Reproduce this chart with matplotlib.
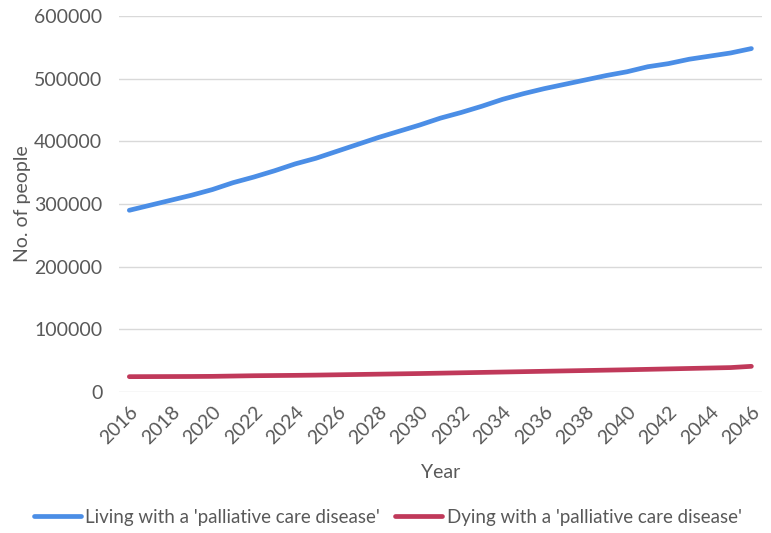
import matplotlib.pyplot as plt

years = list(range(2016, 2047))
living = [290000, 298000, 306000, 314000, 323000, 334000, 343000, 353000, 364000, 373000,
          384000, 395000, 406000, 416000, 426000, 437000, 446000, 456000, 467000, 476000,
          484000, 491000, 498000, 505000, 511000, 519000, 524000, 531000, 536000, 541000,
          548000]
dying = [24500, 24600, 24700, 24800, 25000, 25500, 26000, 26300, 26600, 27000,
         27500, 28000, 28500, 29000, 29500, 30100, 30700, 31300, 31900, 32500,
         33100, 33700, 34300, 34900, 35500, 36200, 36900, 37600, 38300, 39000,
         41000]
yticks = [0, 100000, 200000, 300000, 400000, 500000, 600000]

BLUE = "#4b8ee6"
RED = "#c0395a"
TXT = "#595959"

plt.rcParams["font.family"] = ["Lato", "DejaVu Sans"]

fig = plt.figure(figsize=(7.71, 5.33), dpi=100)
ax = fig.add_axes([0.1543, 0.2645, 0.8337, 0.7055])

x = list(range(len(years)))
ax.plot(x, living, color=BLUE, lw=3.4, solid_capstyle="round",
        label="Living with a 'palliative care disease'")
ax.plot(x, dying, color=RED, lw=3.4, solid_capstyle="round",
        label="Dying with a 'palliative care disease'")

ax.set_xlim(-0.5, len(years) - 0.5)
ax.set_ylim(0, 600000)
ax.set_yticks(yticks)
ax.set_yticklabels([str(v) for v in yticks])
ax.set_xticks(x[::2])
ax.set_xticklabels([str(y) for y in years[::2]], rotation=45, ha="right",
                   rotation_mode="anchor")
ax.tick_params(length=0, labelsize=14, colors=TXT)
ax.tick_params(axis="x", pad=8)
ax.tick_params(axis="y", pad=12)
ax.grid(axis="y", color="#d9d9d9", lw=1)
ax.set_axisbelow(True)
for s in ax.spines.values():
    s.set_visible(False)

ax.set_ylabel("No. of people", fontsize=14, color=TXT, labelpad=2)
ax.set_xlabel("Year", fontsize=14, color=TXT, labelpad=12)

ax.legend(loc="upper center", bbox_to_anchor=(0.418, -0.265), ncol=2, frameon=False,
          fontsize=13.5, labelcolor=TXT, handlelength=2.5, handletextpad=0.25,
          columnspacing=0.8)

fig.savefig("out.png", dpi=100)
